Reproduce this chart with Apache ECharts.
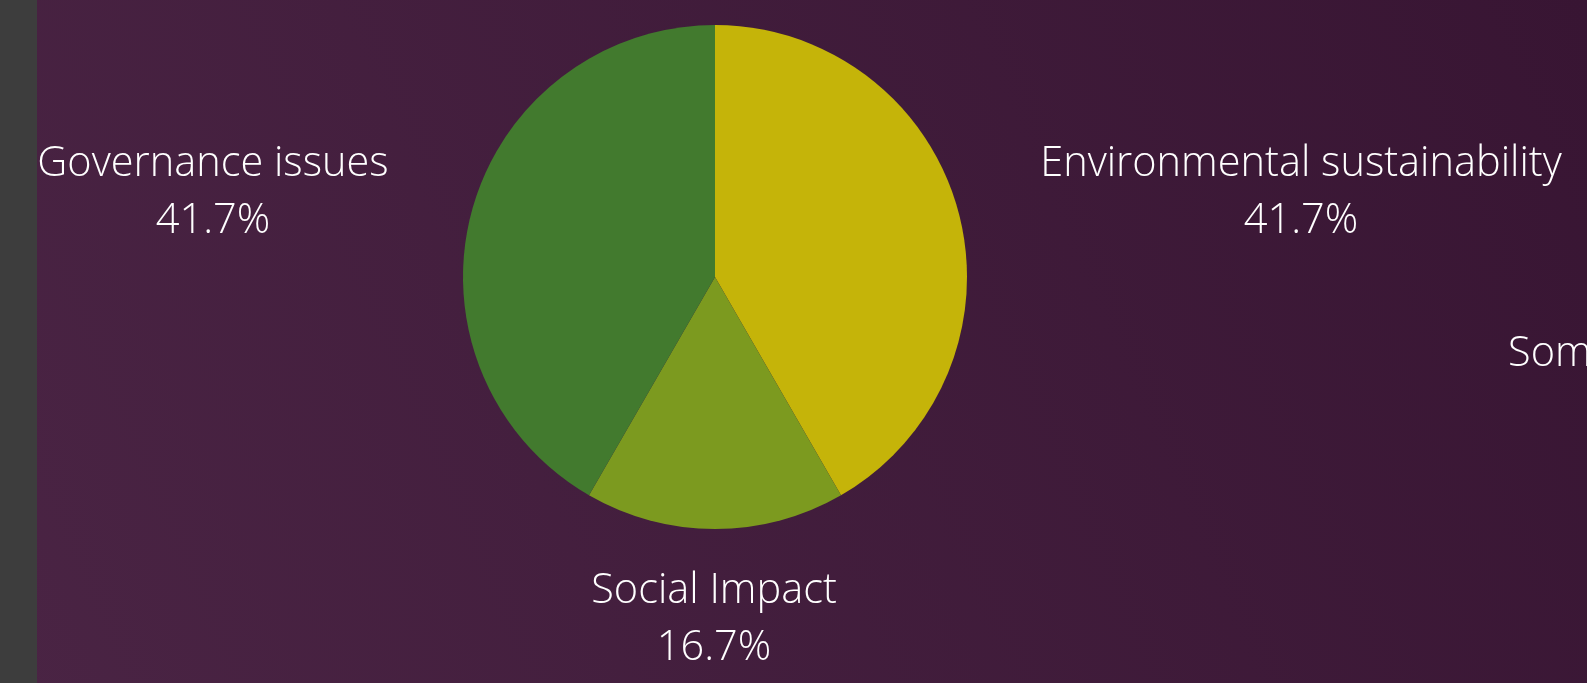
<!DOCTYPE html>
<html>
<head>
<meta charset="utf-8">
<script src="https://cdn.jsdelivr.net/npm/echarts@6/dist/echarts.min.js"></script>
<style>
  html, body { margin: 0; padding: 0; }
  #chart { width: 1587px; height: 683px; }
</style>
</head>
<body>
<div id="chart"></div>
<script>
// slices, clockwise from 12 o'clock
const NAMES = ['Environmental sustainability', 'Social Impact', 'Governance issues'];
const VALUES = [5, 2, 5];
const COLORS = ['#c5b409', '#7c9a1f', '#427a2e'];

// where each label block sits (centre x, centre y)
const LABEL_POS = [[1301, 193], [714, 620], [213, 193]];

const FONT = '"Open Sans", "DejaVu Sans", sans-serif';
const TOTAL = VALUES.reduce((a, b) => a + b, 0);

let chart = echarts.init(document.getElementById('chart'));

let option = {
  backgroundColor: {
    type: 'linear', x: 0, y: 1, x2: 1, y2: 0,
    colorStops: [
      { offset: 0, color: '#4a2444' },
      { offset: 1, color: '#381533' }
    ]
  },
  graphic: [{
    type: 'rect',
    left: 0, top: 0,
    shape: { width: 37, height: 683 },
    style: { fill: '#3d3d3d' },
    z: 10
  }, {
    type: 'text',
    left: 1508, top: 333,
    style: { text: 'Some', fill: '#ffffff', font: '300 41.5px ' + FONT }
  }],
  series: [{
    type: 'pie',
    center: [715, 277],
    radius: 252,
    startAngle: 90,
    clockwise: true,
    data: NAMES.map((n, i) => ({ name: n, value: VALUES[i], itemStyle: { color: COLORS[i] } })),
    label: {
      show: true,
      formatter: function(params) {
        return `${params.name}\n${(params.value / TOTAL * 100).toFixed(1)}%`;
      },
      color: '#ffffff',
      fontFamily: FONT,
      fontWeight: 300,
      fontSize: 41.5,
      lineHeight: 57,
      align: 'center'
    },
    labelLine: { show: false },
    labelLayout: function(params) {
      let p = LABEL_POS[params.dataIndex];
      return { x: p[0], y: p[1], align: 'center', verticalAlign: 'middle' };
    },
    emphasis: { disabled: true }
  }]
};

chart.setOption(option);
</script>
</body>
</html>
